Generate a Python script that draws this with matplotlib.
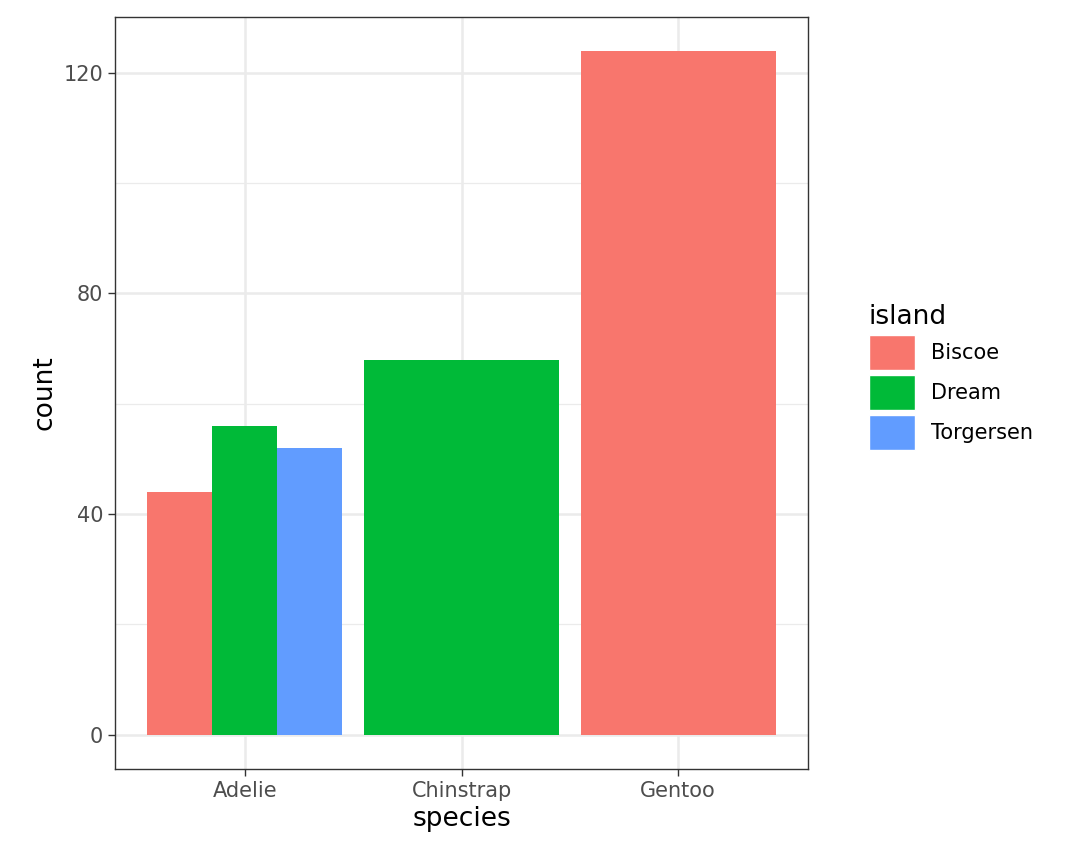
import matplotlib.pyplot as plt
from matplotlib.patches import Patch

species = ["Adelie", "Chinstrap", "Gentoo"]
islands = ["Biscoe", "Dream", "Torgersen"]
colors = {"Biscoe": "#F8766D", "Dream": "#00BA38", "Torgersen": "#619CFF"}
# (species, island, count)
bars = [
    ("Adelie", "Biscoe", 44), ("Adelie", "Dream", 56), ("Adelie", "Torgersen", 52),
    ("Chinstrap", "Dream", 68),
    ("Gentoo", "Biscoe", 124),
]

fig = plt.figure(figsize=(10.8, 8.64), dpi=100)
ax = fig.add_axes([115/1080, 1-769/864, (808-115)/1080, (769-17)/864])

width = 0.9
for i, sp in enumerate(species):
    grp = [b for b in bars if b[0] == sp]
    n = len(grp)
    w = width / n
    for j, (_, isl, cnt) in enumerate(grp):
        x = i + 1 - width/2 + w*(j + 0.5)
        ax.bar(x, cnt, width=w, color=colors[isl], zorder=3)

ax.set_xlim(0.4, 3.6)
ax.set_ylim(-6.2, 130.1)
ax.set_xticks([1, 2, 3])
ax.set_xticklabels(species)
ax.set_yticks([0, 40, 80, 120])
ax.set_yticks([20, 60, 100], minor=True)
ax.grid(True, which="major", color="#EBEBEB", lw=1.8, zorder=0)
ax.grid(True, which="minor", axis="y", color="#EBEBEB", lw=0.9, zorder=0)
ax.tick_params(which="minor", length=0)
ax.tick_params(which="major", length=5, color="#333333", labelsize=15, labelcolor="#4D4D4D", width=1)
for s in ax.spines.values():
    s.set_color("#333333")
    s.set_linewidth(1)
ax.set_xlabel("species", fontsize=19)
ax.set_ylabel("count", fontsize=19)

handles = [Patch(facecolor=colors[k], edgecolor="white", label=k) for k in islands]
leg = fig.legend(handles=handles, title="island", loc="upper left",
                 bbox_to_anchor=(850/1080, 1-285/864), frameon=False,
                 fontsize=15, title_fontsize=19, handlelength=2.2, handleheight=2.2,
                 labelspacing=0.25, handletextpad=0.8)
leg._legend_box.align = "left"

fig.savefig("out.png", dpi=100)
